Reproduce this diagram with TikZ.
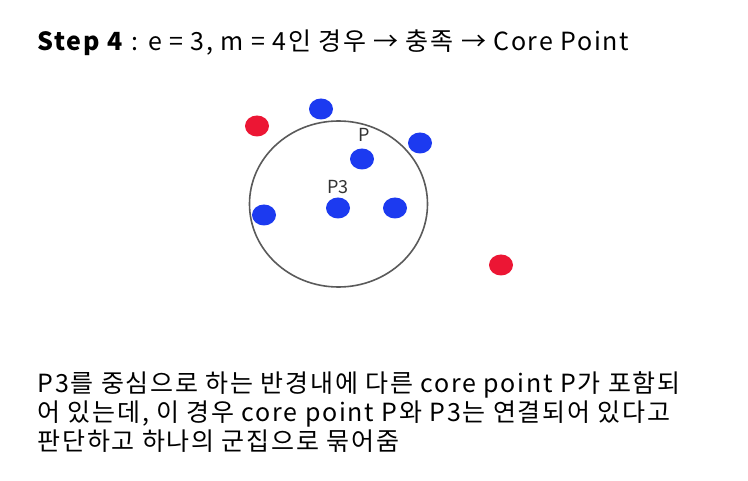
\documentclass[tikz,border=0pt]{standalone}
\usepackage{fontspec}
\setmainfont{Noto Sans CJK KR}
\usetikzlibrary{shapes.geometric, positioning}
\definecolor{ptblue}{RGB}{28, 58, 240}
\definecolor{ptred}{RGB}{236, 22, 52}
\definecolor{rimgray}{RGB}{90, 90, 90}

\begin{document}
\begin{tikzpicture}[x=1pt, y=-1pt,
  dot/.style={ellipse, minimum width=24pt, minimum height=21pt, inner sep=0pt},
  core/.style={dot, fill=ptblue},
  noise/.style={dot, fill=ptred},
  lbl/.style={font=\fontsize{18}{18}\selectfont, text=black!80},
  txt/.style={font=\fontsize{25}{29}\selectfont\addfontfeature{LetterSpace=7}}
]
  \useasboundingbox (0,0) rectangle (748,481);

  % Title
  \node[anchor=west, txt] (title) at (34, 43)
    {\textbf{Step 4} : e = 3, m = 4인 경우 → 충족 → Core Point};

  % Neighbourhood of P3
  \node[ellipse, draw=rimgray, line width=1.6pt, minimum width=178pt, minimum height=166pt] (rad) at (338.5, 204) {};

  % Points
  \node[noise] (r1) at (257, 126) {};
  \node[core] (b1) at (321, 109) {};
  \node[core] (b2) at (420, 143) {};
  \node[core] (p) at (362, 159) {};
  \node[core] (p3) at (338, 208) {};
  \node[core] (b3) at (264, 215) {};
  \node[core] (b4) at (395, 208) {};
  \node[noise] (r2) at (501, 265) {};

  \node[lbl] (plbl) at (364, 135) {P};
  \node[lbl] (p3lbl) at (338, 187) {P3};

  % Explanation
  \node[anchor=north west, align=left, txt] (note) at (34, 368)
    {P3를 중심으로 하는 반경내에 다른 core point P가 포함되\\
     어 있는데, 이 경우 core point P와 P3는 연결되어 있다고\\
     판단하고 하나의 군집으로 묶어줌};
\end{tikzpicture}
\end{document}
